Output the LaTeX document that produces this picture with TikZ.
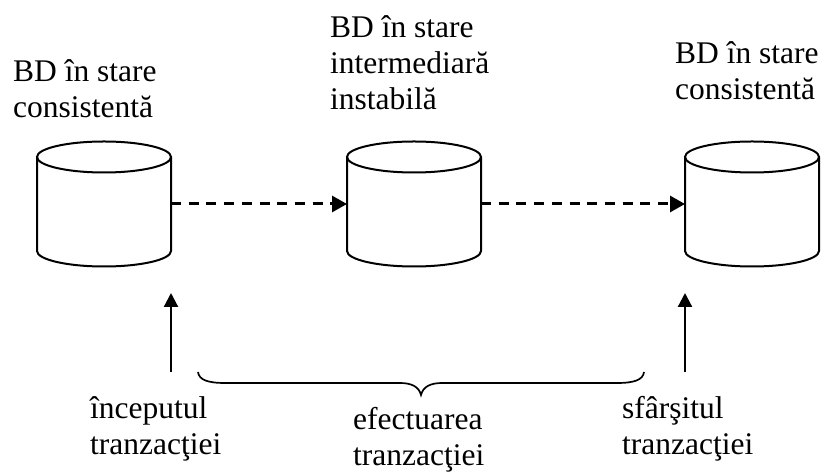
\documentclass[tikz,border=0pt]{standalone}
\usepackage{fontspec}
\setmainfont{Liberation Serif}
\usetikzlibrary{arrows.meta}

% one database drum: #1 = node name, #2 = x of its axis
\newcommand\dbdrum[2]{%
  \node[minimum width=134pt, minimum height=94pt, inner sep=0pt, outer sep=0pt] (#1) at (#2,269) {};
  \draw[drum] (#2-67,316) -- (#2-67,222)
     arc[start angle=180, end angle=360, x radius=67, y radius=15.5] -- (#2+67,316);
  \draw[drum] (#2,316) ellipse [x radius=67, y radius=15.5];
}

\begin{document}
\begin{tikzpicture}[x=1pt, y=1pt,
  % captions are placed by the baseline of their last line
  lbl/.style={font=\fontsize{31.5}{36}\selectfont, align=left, inner sep=0pt, anchor=base west},
  drum/.style={line width=2pt},
  flow/.style={line width=3pt, dash pattern=on 10pt off 7.7pt,
               -{Triangle[length=15pt, width=16pt]}},
  evt/.style={line width=2.2pt, -{Triangle[length=14pt, width=14pt]}},
  bracepath/.style={line width=1.7pt}]
\useasboundingbox (0,0) rectangle (822,473);

% database states
\dbdrum{d1}{104}
\dbdrum{d2}{414}
\dbdrum{d3}{752}

\draw[flow] (d1.east) -- (d2.west);
\draw[flow] (d2.east) -- (d3.west);

% state captions
\node[lbl] (t1) at (13,355) {BD în stare\\consistentă};
\node[lbl] (t2) at (330,363) {BD în stare\\intermediară\\instabilă};
\node[lbl] (t3) at (675,373) {BD în stare\\consistentă};

% transaction start / end markers
\coordinate (s1) at (171,101);
\coordinate (s1top) at (171,180);
\coordinate (s2) at (685,101);
\coordinate (s2top) at (685,180);
\draw[evt] (s1) -- (s1top);
\draw[evt] (s2) -- (s2top);

% brace spanning the transaction
\draw[bracepath] (198,101) .. controls (199,93) and (208,90) .. (225,90)
  -- (400,90) .. controls (412,90) and (419,86) .. (421,78)
  .. controls (423,86) and (430,90) .. (442,90)
  -- (617,90) .. controls (634,90) and (643,93) .. (644,101);

% event captions
\node[lbl] (b1) at (90,18) {începutul\\tranzacţiei};
\node[lbl] (b2) at (353,7) {efectuarea\\tranzacţiei};
\node[lbl] (b3) at (622,18) {sfârşitul\\tranzacţiei};
\end{tikzpicture}
\end{document}
